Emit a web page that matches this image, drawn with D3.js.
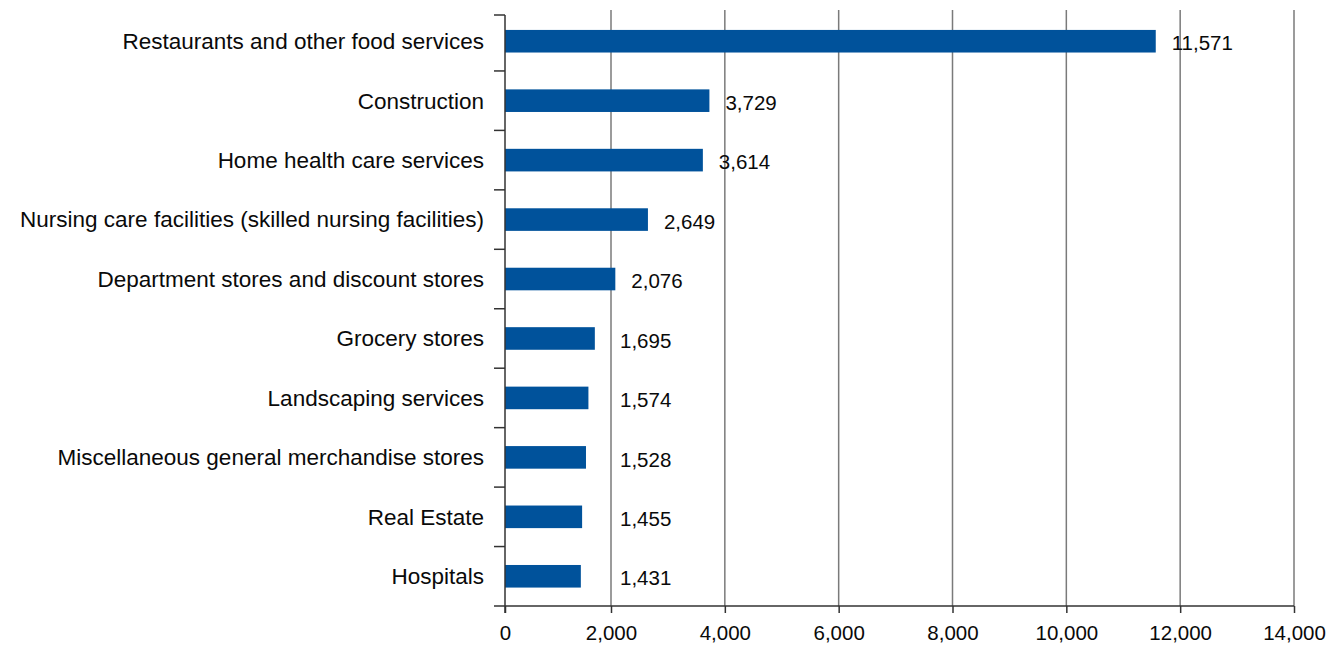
<!DOCTYPE html>
<html>
<head>
<meta charset="utf-8">
<script src="https://cdn.jsdelivr.net/npm/d3@7"></script>
<style>
  html, body { margin: 0; padding: 0; background: #fff; }
  svg { display: block; }
  text { font-family: "Liberation Sans", Arial, sans-serif; fill: #0a0a0a; }
</style>
</head>
<body>
<svg id="chart" width="1332" height="646"></svg>
<script>
// Industries, top to bottom
const categories = [
  "Restaurants and other food services",
  "Construction",
  "Home health care services",
  "Nursing care facilities (skilled nursing facilities)",
  "Department stores and discount stores",
  "Grocery stores",
  "Landscaping services",
  "Miscellaneous general merchandise stores",
  "Real Estate",
  "Hospitals"
];
const values = [11571, 3729, 3614, 2649, 2076, 1695, 1574, 1528, 1455, 1431];
const xTicks = [0, 2000, 4000, 6000, 8000, 10000, 12000, 14000];

const svg = d3.select("#chart");
const fmt = d3.format(",");

// Value axis: zero sits on the category axis, the rest of the ticks are evenly spaced
const x = d3.scaleLinear().domain([0, 2000, 14000]).range([505, 611, 1294]);

const axisY = 606;   // baseline of the value axis
const axisTop = 15;  // top of the category axis
const gridTop = 10;

const y = d3.scaleBand().domain(categories).range([11.5, axisY])
  .paddingInner(0.62).paddingOuter(0.31);
const center = c => y(c) + y.bandwidth() / 2;

// Vertical gridlines
svg.append("g").selectAll("line")
  .data(xTicks.filter(d => d > 0))
  .join("line")
  .attr("x1", d => x(d)).attr("x2", d => x(d))
  .attr("y1", gridTop).attr("y2", axisY)
  .attr("stroke", "#7a7a7a").attr("stroke-width", 1.5);

// Bars
svg.append("g").selectAll("rect")
  .data(values)
  .join("rect")
  .attr("x", x(0))
  .attr("y", (d, i) => y(categories[i]))
  .attr("width", d => x(d) - x(0))
  .attr("height", y.bandwidth())
  .attr("fill", "#00529b");

// Bottom axis
const xAxis = svg.append("g").attr("transform", `translate(0,${axisY})`)
  .call(d3.axisBottom(x).tickValues(xTicks).tickFormat(fmt).tickSize(7).tickPadding(12));
xAxis.select(".domain").remove();
xAxis.append("line")
  .attr("x1", x(0) - 11).attr("x2", x(14000))
  .attr("y1", 0).attr("y2", 0)
  .attr("stroke", "#333").attr("stroke-width", 1.5);
xAxis.selectAll(".tick line").attr("stroke", "#333").attr("stroke-width", 1.5);
xAxis.selectAll(".tick text")
  .attr("font-size", 20.5).attr("font-family", "Liberation Sans, Arial, sans-serif")
  .attr("fill", "#0a0a0a");

// Category axis: ticks between neighbouring bands
const boundaries = [axisTop].concat(
  categories.slice(1).map((c, i) => (center(categories[i]) + center(c)) / 2)
);
const yAxis = svg.append("g");
yAxis.append("line")
  .attr("x1", x(0)).attr("x2", x(0))
  .attr("y1", axisTop).attr("y2", axisY + 7)
  .attr("stroke", "#333").attr("stroke-width", 1.5);
yAxis.selectAll("line.btick")
  .data(boundaries)
  .join("line")
  .attr("class", "btick")
  .attr("x1", x(0) - 11).attr("x2", x(0))
  .attr("y1", d => d).attr("y2", d => d)
  .attr("stroke", "#333").attr("stroke-width", 1.5);

// Category labels
svg.append("g").selectAll("text")
  .data(categories)
  .join("text")
  .attr("x", x(0) - 21)
  .attr("y", d => center(d))
  .attr("dy", "0.35em")
  .attr("text-anchor", "end")
  .attr("font-size", 22.5)
  .text(d => d);

// Value labels
svg.append("g").selectAll("text")
  .data(values)
  .join("text")
  .attr("x", d => Math.max(x(d) + 16, x(2000) + 9))
  .attr("y", (d, i) => center(categories[i]) + 2)
  .attr("dy", "0.35em")
  .attr("font-size", 20.5)
  .text(d => fmt(d));
</script>
</body>
</html>
